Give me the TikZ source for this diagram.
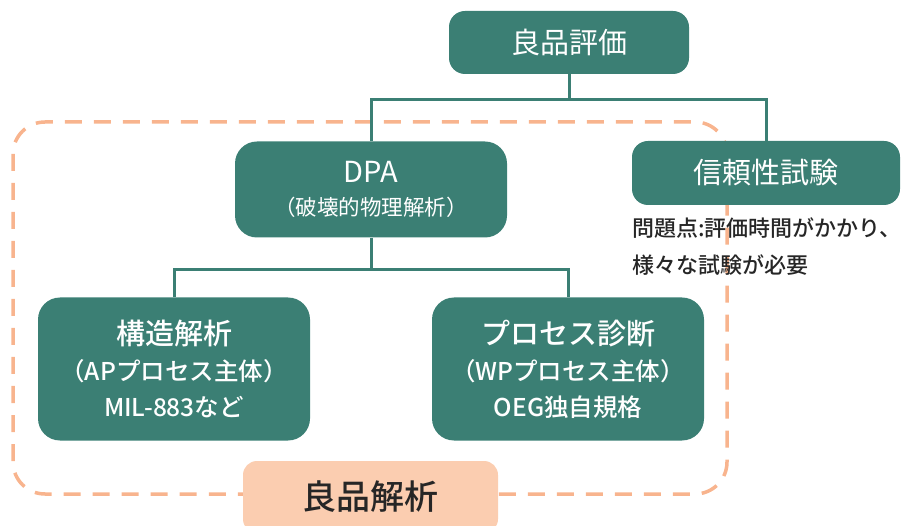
\documentclass[tikz,border=0pt]{standalone}
\usepackage{fontspec}
\setmainfont{Noto Sans CJK JP}
\newfontfamily\cjkmed{Noto Sans CJK JP Medium}
\definecolor{boxteal}{HTML}{3B7F74}
\definecolor{peachfill}{HTML}{FBCDB0}
\definecolor{peachline}{HTML}{F8B48E}
\definecolor{darktext}{HTML}{262626}
\tikzset{
  tealbox/.style={fill=boxteal, draw=none, rounded corners=16pt, text=white, align=center, inner sep=0pt},
  link/.style={draw=boxteal, line width=3pt},
  frame/.style={draw=peachline, line width=3.5pt, dash pattern=on 17pt off 12pt, rounded corners=32pt},
  bigfont/.style={font=\fontsize{29}{34}\selectfont},
}
\begin{document}
\begin{tikzpicture}[x=1pt,y=-1pt]
\useasboundingbox (0,0) rectangle (902,526);
\draw[frame] (13,122) rectangle (727,494);
\node[tealbox, bigfont, minimum width=240pt, minimum height=63pt] (top) at (569,42.5) {良品評価};
\node[tealbox, rounded corners=22pt, minimum width=272pt, minimum height=96pt,
  font=\fontsize{21.5}{33}\selectfont] (dpa) at (371,189.5)
  {{\fontsize{29}{33}\selectfont DPA}\\（破壊的物理解析）};
\node[tealbox, bigfont, minimum width=268pt, minimum height=64pt] (rel) at (766,173) {信頼性試験};
\node[tealbox, rounded corners=22pt, minimum width=272pt, minimum height=143pt,
  font=\cjkmed\fontsize{24.5}{36}\selectfont] (kozo) at (174,369)
  {{\fontsize{29}{36}\selectfont 構造解析}\\（APプロセス主体）\\MIL-883など};
\node[tealbox, rounded corners=22pt, minimum width=272pt, minimum height=143pt,
  font=\cjkmed\fontsize{24.5}{36}\selectfont] (proc) at (568,369)
  {{\fontsize{29}{36}\selectfont プロセス診断}\\（WPプロセス主体）\\OEG独自規格};
\node[anchor=north west, align=left, text=darktext, inner sep=0pt, font=\cjkmed\fontsize{22}{37}\selectfont] (note) at (632,217)
  {問題点:評価時間がかかり、\\様々な試験が必要};
\node[fill=peachfill, rounded corners=14pt, minimum width=255pt, minimum height=72pt, inner sep=0pt,
  text=darktext, font=\cjkmed\fontsize{34}{40}\selectfont] (label) at (370.5,497) {良品解析};
\coordinate (j1) at (569,100);
\coordinate (j2) at (371,270);
\draw[link] (top.south) -- (j1);
\draw[link] (dpa.north) |- (j1) -| (rel.north);
\draw[link] (dpa.south) -- (j2);
\draw[link] (kozo.north) |- (j2) -| (proc.north);
\end{tikzpicture}
\end{document}
